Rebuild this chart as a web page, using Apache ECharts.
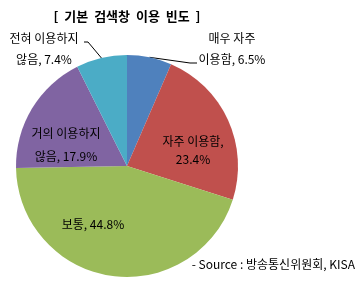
<!DOCTYPE html>
<html>
<head>
<meta charset="utf-8">
<script src="https://cdn.jsdelivr.net/npm/echarts@6/dist/echarts.min.js"></script>
<style>
  html, body { margin: 0; padding: 0; background: #fff; }
  #chart { width: 360px; height: 282px; }
</style>
</head>
<body>
<div id="chart"></div>
<script>
  // 데이터
  const categories = ['매우 자주 이용함', '자주 이용함', '보통', '거의 이용하지 않음', '전혀 이용하지 않음'];
  const labelNames = ['매우 자주\n이용함, ', '자주 이용함,\n', '보통, ', '거의 이용하지\n않음, ', '전혀 이용하지\n않음, '];
  const values = [6.5, 23.4, 44.8, 17.9, 7.4];
  const colors = ['#4F81BD', '#C0504D', '#9BBB59', '#8064A2', '#4BACC6'];

  // 라벨 위치 (x, y 중심)
  const labelPos = [[232, 49], [193, 150], [93, 224], [66, 145], [44, 49]];
  const lineHeights = [21, 18, 18, 23, 21];

  const chart = echarts.init(document.getElementById('chart'));

  const option = {
    animation: false,
    title: {
      text: '[  기본  검색창  이용  빈도  ]',
      left: 122,
      top: 5,
      textAlign: 'center',
      textStyle: { fontFamily: 'Noto Sans CJK KR', fontSize: 13, fontWeight: 'bold', color: '#000' },
    },
    graphic: [
      {
        type: 'text',
        right: 5,
        top: 258,
        style: { text: '- Source : 방송통신위원회, KISA', fontFamily: 'Noto Sans CJK KR', fontSize: 12, fill: '#000' },
      },
    ],
    series: [
      {
        type: 'pie',
        center: [127, 166],
        radius: [0, 111],
        startAngle: 90,
        clockwise: true,
        silent: true,
        avoidLabelOverlap: false,
        data: values.map((v, i) => ({
          name: categories[i],
          value: v,
          itemStyle: { color: colors[i] },
          label: {
            formatter: labelNames[i] + v.toFixed(1) + '%',
            lineHeight: lineHeights[i],
          },
          labelLine: { show: i === 0 || i === 4 },
        })),
        label: {
          show: true,
          position: 'outside',
          align: 'center',
          fontFamily: 'Noto Sans CJK KR',
          fontSize: 12,
          color: '#000',
        },
        labelLine: {
          length: 15,
          length2: 10,
          lineStyle: { color: '#000', width: 1 },
        },
        labelLayout: function (params) {
          const i = params.dataIndex;
          const p = labelPos[i];
          const res = { x: p[0], y: p[1], align: 'center', verticalAlign: 'middle', hideOverlap: false };
          if (i === 0 && params.labelLinePoints) {
            const s = params.labelLinePoints[0];
            res.labelLinePoints = [s, [190, 63], [197, 63]];
          } else if (i === 4 && params.labelLinePoints) {
            const s = params.labelLinePoints[0];
            res.labelLinePoints = [s, [88, 42], [84, 42]];
          }
          return res;
        },
      },
    ],
  };

  chart.setOption(option);
</script>
</body>
</html>
